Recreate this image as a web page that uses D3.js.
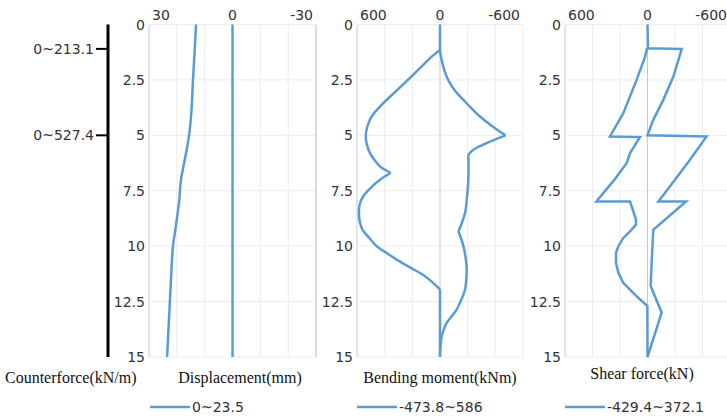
<!DOCTYPE html>
<html>
<head>
<meta charset="utf-8">
<script src="https://cdn.jsdelivr.net/npm/d3@7"></script>
<style>
  body { margin: 0; background: #fff; }
  text { font-family: "DejaVu Sans", sans-serif; }
</style>
</head>
<body>
<script>
// depth in m, values [depth, value]
let depthTicks = [0, 2.5, 5, 7.5, 10, 12.5, 15];

let dispLine = [[0, 13.1], [1.2, 13.6], [2.5, 14.2], [3.8, 14.7], [5, 15.6], [6, 17.0], [7, 18.5], [8, 19.2], [9.4, 20.7], [10, 21.4], [11.5, 22.1], [13, 22.7], [15, 23.5]];
let pileLine = [[0, 0], [15, 0]];

let momentLeft = [[0, 0], [1.15, 0], [1.45, 60], [1.75, 110], [2.35, 208], [2.95, 308], [3.55, 410], [4.15, 494], [4.6, 525], [5.05, 537], [5.5, 525], [5.8, 506], [6.1, 475], [6.4, 434], [6.7, 356], [7.0, 434], [7.3, 490], [7.75, 555], [8.1, 580], [8.5, 586], [8.9, 580], [9.26, 560], [9.6, 515], [10.0, 458], [10.35, 375], [10.7, 289], [11.0, 205], [11.3, 121], [11.6, 60], [11.95, 0], [15, 0]];
let momentRight = [[1.15, 0], [1.5, -8], [1.9, -24], [2.3, -45], [2.65, -72], [3.0, -110], [3.4, -169], [3.8, -230], [4.15, -289], [4.6, -380], [5.0, -473.8], [5.65, -241], [5.88, -205], [7.0, -205], [7.8, -195], [8.5, -181], [9.0, -155], [9.33, -133], [9.7, -155], [10.0, -169], [10.5, -185], [11.05, -193], [11.5, -190], [11.96, -181], [12.4, -155], [12.86, -120], [13.2, -80], [13.46, -48], [13.8, -25], [14.06, -12], [14.5, -4], [15, 0]];

let shearLine = [[0, 0], [1.07, -3], [1.1, -249], [2.35, -188], [3.4, -115], [4.3, -42], [5.0, 0], [5.05, -429.4], [6.1, -309], [7.0, -200], [7.98, -79], [7.98, -280], [9.26, -42], [10.76, -30], [11.8, -23], [13.0, -103], [15, 0], [12.7, 1], [12.26, 79], [11.96, 127], [11.66, 176], [11.2, 212], [10.76, 229], [10.3, 229], [10.0, 212], [9.63, 176], [9.33, 127], [9.03, 84], [8.8, 84], [7.98, 127], [7.98, 372.1], [7.0, 240], [6.25, 151], [5.8, 127], [5.08, 55], [5.05, 273], [4.0, 176], [2.5, 79], [1.45, 18], [1.07, 3]];

let cfTicks = [[1.1, "0~213.1"], [5, "0~527.4"]];
let legendLabels = ["0~23.5", "-473.8~586", "-429.4~372.1"];
let titles = ["Displacement(mm)", "Bending moment(kNm)", "Shear force(kN)"];

let svg = d3.select("body").append("svg")
    .attr("width", 727)
    .attr("height", 418);

let blue = "#5b9bd5";
let y = d3.scaleLinear().domain([0, 15]).range([24.5, 357]);

// where a smooth line has a sharp corner (depths)
let corners = [[[], []], [[1.15, 6.7, 11.95], [5.0, 5.88, 9.33]], [[]]];

let panels = [
    { left: 149, right: 316, domain: [30, -30], ticks: [30, 20, 10, 0, -10, -20, -30], labels: [30, 0, -30], series: [dispLine, pileLine], smooth: true },
    { left: 357, right: 523, domain: [600, -600], ticks: [600, 400, 200, 0, -200, -400, -600], labels: [600, 0, -600], series: [momentLeft, momentRight], smooth: true },
    { left: 565, right: 730, domain: [600, -600], ticks: [600, 400, 200, 0, -200, -400, -600], labels: [600, 0, -600], series: [shearLine], smooth: false }
];

function splitAt(s, cuts) {
    let pieces = [[]];
    s.forEach(d => {
        pieces[pieces.length - 1].push(d);
        if (cuts.indexOf(d[0]) >= 0) pieces.push([d]);
    });
    return pieces.filter(q => q.length > 1);
}

panels.forEach((p, k) => {
    let x = d3.scaleLinear().domain(p.domain).range([p.left, p.right]);
    let g = svg.append("g");

    // grid
    g.selectAll(".hg").data(depthTicks).enter().append("line")
        .attr("x1", p.left).attr("x2", p.right)
        .attr("y1", d => y(d)).attr("y2", d => y(d))
        .attr("stroke", "#ececec").attr("stroke-width", 1);
    g.selectAll(".vg").data(p.ticks).enter().append("line")
        .attr("x1", d => x(d)).attr("x2", d => x(d))
        .attr("y1", y(0)).attr("y2", y(15))
        .attr("stroke", d => d == 0 ? "#c8c8c8" : "#ececec")
        .attr("stroke-width", 1);
    g.append("line")
        .attr("x1", p.left).attr("x2", p.left)
        .attr("y1", y(0)).attr("y2", y(15))
        .attr("stroke", "#d4d4d4");
    if (k == 0) {
        g.append("line")
            .attr("x1", p.right).attr("x2", p.right)
            .attr("y1", y(0)).attr("y2", y(15))
            .attr("stroke", "#c4c4c4");
    }

    // depth labels
    g.selectAll(".dl").data(depthTicks).enter().append("text")
        .attr("x", p.left - 4)
        .attr("y", d => y(d))
        .attr("dy", "0.36em")
        .attr("text-anchor", "end")
        .attr("font-size", 14)
        .attr("fill", "#333")
        .text(d => d);

    // top labels
    g.selectAll(".tl").data(p.labels).enter().append("text")
        .attr("x", (d, i) => i == 0 ? p.left + 3 : i == 2 ? p.right - 3 : x(d))
        .attr("y", 20)
        .attr("text-anchor", (d, i) => i == 0 ? "start" : i == 2 ? "end" : "middle")
        .attr("font-size", 14)
        .attr("fill", "#333")
        .text(d => d);

    let line = d3.line().x(d => x(d[1])).y(d => y(d[0]))
        .curve(p.smooth ? d3.curveCatmullRom.alpha(0.5) : d3.curveLinear);
    p.series.forEach((s, j) => {
        let pieces = splitAt(s, corners[k][j] || []);
        let dstr = pieces.map(q => line(q)).join("");
        g.append("path")
            .attr("d", dstr)
            .attr("fill", "none")
            .attr("stroke", blue)
            .attr("stroke-width", 2.5)
            .attr("stroke-linejoin", "miter");
    });

    // title
    let cx = [240, 440, 642][k];
    g.append("text")
        .attr("x", cx)
        .attr("y", k == 2 ? 379 : 383)
        .attr("text-anchor", "middle")
        .style("font-family", "'Liberation Serif', serif")
        .attr("font-size", 16)
        .attr("fill", "#111")
        .text(titles[k]);

    // legend
    let lx = [150, 357, 565][k];
    g.append("line")
        .attr("x1", lx).attr("x2", lx + 40)
        .attr("y1", 407).attr("y2", 407)
        .attr("stroke", blue).attr("stroke-width", 2.5);
    g.append("text")
        .attr("x", lx + 42)
        .attr("y", 407)
        .attr("dy", "0.36em")
        .attr("font-size", 14)
        .attr("fill", "#333")
        .text(legendLabels[k]);
});

// counterforce bar
svg.append("line")
    .attr("x1", 108).attr("x2", 108)
    .attr("y1", y(0)).attr("y2", y(15))
    .attr("stroke", "#000").attr("stroke-width", 3);
cfTicks.forEach(t => {
    svg.append("line")
        .attr("x1", 96).attr("x2", 108)
        .attr("y1", y(t[0])).attr("y2", y(t[0]))
        .attr("stroke", "#000").attr("stroke-width", 2);
    svg.append("text")
        .attr("x", 94)
        .attr("y", y(t[0]))
        .attr("dy", "0.36em")
        .attr("text-anchor", "end")
        .attr("font-size", 14)
        .attr("fill", "#333")
        .text(t[1]);
});
svg.append("text")
    .attr("x", 5)
    .attr("y", 383)
    .style("font-family", "'Liberation Serif', serif")
    .attr("font-size", 16)
    .attr("fill", "#111")
    .text("Counterforce(kN/m)");
</script>
</body>
</html>
